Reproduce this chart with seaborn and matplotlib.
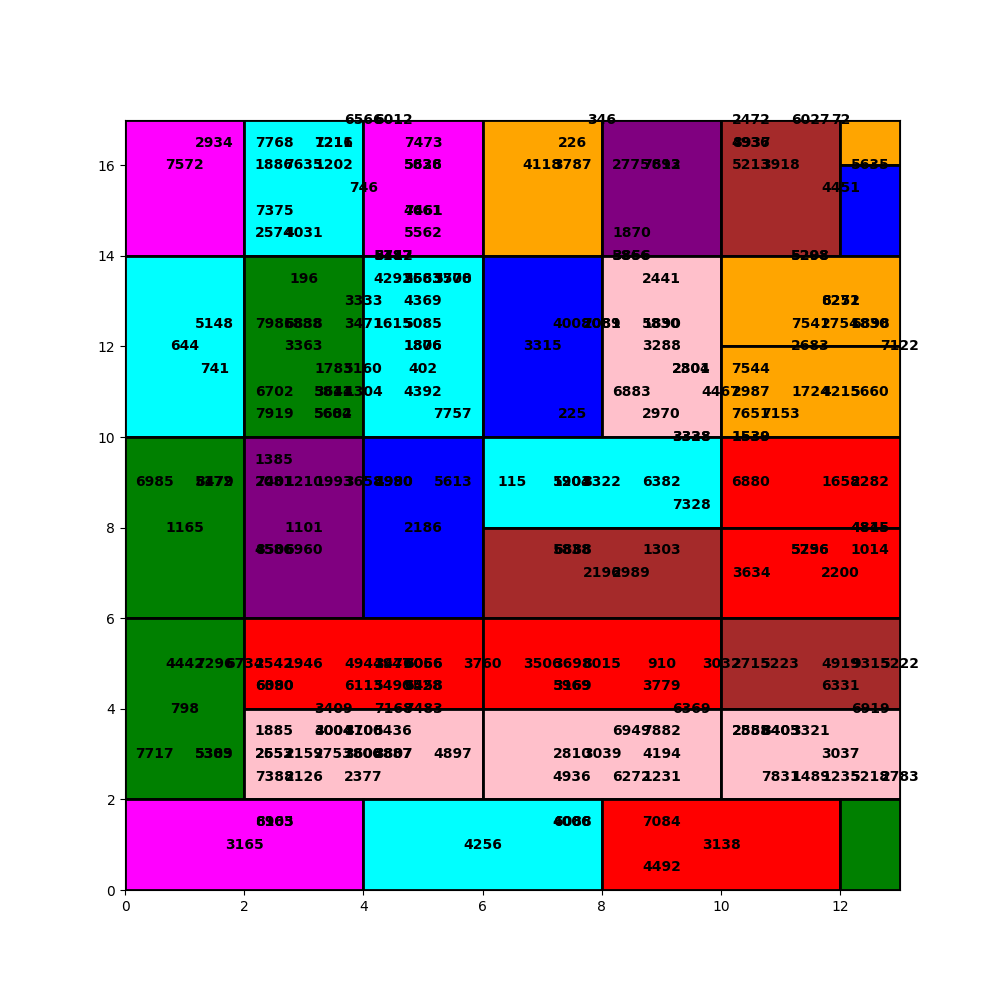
import matplotlib
matplotlib.use("Agg")
import matplotlib.pyplot as plt
import seaborn as sns

# blocks: left edge, bottom edge, width, height, colour
block_x = [0, 2, 4, 6, 8, 10, 12, 12,
           0, 2, 4, 6, 8, 10, 10,
           0, 2, 4, 6, 6, 10, 10,
           0, 2, 2, 6, 6, 10, 10,
           0, 4, 8, 12]
block_y = [14, 14, 14, 14, 14, 14, 16, 14,
           10, 10, 10, 10, 10, 12, 10,
           6, 6, 6, 8, 6, 8, 6,
           2, 4, 2, 4, 2, 4, 2,
           0, 0, 0, 0]
block_w = [2, 2, 2, 2, 2, 2, 1, 1,
           2, 2, 2, 2, 2, 3, 3,
           2, 2, 2, 4, 4, 3, 3,
           2, 4, 4, 4, 4, 3, 3,
           4, 4, 4, 1]
block_h = [3, 3, 3, 3, 3, 3, 1, 2,
           4, 4, 4, 4, 4, 2, 2,
           4, 4, 4, 2, 2, 2, 2,
           4, 2, 2, 2, 2, 2, 2,
           2, 2, 2, 2]
block_color = ['magenta', 'cyan', 'magenta', 'orange', 'purple', 'brown', 'orange', 'blue',
               'cyan', 'green', 'cyan', 'blue', 'pink', 'orange', 'orange',
               'green', 'purple', 'blue', 'cyan', 'brown', 'red', 'red',
               'green', 'red', 'pink', 'red', 'pink', 'brown', 'pink',
               'magenta', 'cyan', 'red', 'green']

# number labels, grouped by row
label_x = [4, 4.5, 8, 10.5, 11.5, 12,
           1.5, 2.5, 3.5, 3.5, 5, 7.5, 10.5, 10.5,
           1, 2.5, 3, 3.5, 5, 5, 7, 7.5, 8.5, 9, 9, 10.5, 11, 12.5,
           4, 12,
           2.5, 5, 5,
           2.5, 3, 5, 8.5,
           4.5, 4.5, 4.5, 8.5, 8.5, 11.5, 11.5,
           3, 4.5, 5, 5, 5.5, 5.5, 9,
           4, 5, 12, 12,
           1.5, 2.5, 3, 3, 4, 4.5, 5, 7.5, 8, 8, 9, 9, 11.5, 12, 12.5, 12.5,
           1, 3, 5, 5, 7, 9, 11.5, 13,
           1.5, 3.5, 4, 5, 9.5, 9.5, 10.5,
           2.5, 3.5, 3.5, 4, 5, 8.5, 10, 10.5, 11.5, 12, 12.5,
           2.5, 3.5, 3.5, 5.5, 7.5, 9, 10.5, 11,
           9.5, 9.5, 10.5, 10.5,
           2.5,
           0.5, 1.5, 1.5, 2.5, 2.5, 3, 3.5, 4, 4.5, 4.5, 5.5, 6.5, 7.5, 7.5, 8, 9, 10.5, 12, 12.5,
           9.5,
           1, 3, 5, 12.5, 12.5,
           2.5, 2.5, 3, 7.5, 7.5, 9, 11.5, 11.5, 12.5,
           8, 8.5, 10.5, 12,
           1, 1.5, 2, 2.5, 3, 4, 4.5, 4.5, 5, 5, 6, 7, 7.5, 8, 9, 10, 10.5, 11, 12, 12.5, 13,
           2.5, 2.5, 4, 4.5, 5, 5, 7.5, 7.5, 9, 12,
           1, 3.5, 4.5, 5, 9.5, 12.5,
           2.5, 3.5, 3.5, 4, 4, 4.5, 8.5, 9, 10.5, 10.5, 11, 11, 11.5,
           0.5, 1.5, 1.5, 2.5, 2.5, 3, 3.5, 4, 4, 4.5, 4.5, 5.5, 7.5, 8, 9, 12,
           2.5, 3, 4, 7.5, 8.5, 9, 11, 11.5, 12, 12.5, 13,
           2.5, 2.5, 7.5, 7.5, 9,
           2, 6, 10,
           9]
label_y = ([17] * 6 + [16.5] * 8 + [16] * 14 + [15.5] * 2 + [15] * 3
           + [14.5] * 4 + [14] * 7 + [13.5] * 7 + [13] * 4 + [12.5] * 16
           + [12] * 8 + [11.5] * 7 + [11] * 11 + [10.5] * 8 + [10] * 4
           + [9.5] * 1 + [9] * 19 + [8.5] * 1 + [8] * 5 + [7.5] * 9
           + [7] * 4 + [5] * 21 + [4.5] * 10 + [4] * 6 + [3.5] * 13
           + [3] * 16 + [2.5] * 11 + [1.5] * 5 + [1] * 3 + [0.5] * 1)
label_text = ['6566', '6012', '346', '2472', '6027', '72',
              '2934', '7768', '7211', '1216', '7473', '226', '4936', '8937',
              '7572', '1886', '7635', '1202', '5838', '5626', '4118', '3787', '2775', '7812', '7693', '5213', '3918', '5635',
              '746', '4451',
              '7375', '7461', '4661',
              '2574', '4031', '5562', '1870',
              '5187', '6442', '3717', '3856', '5866', '5208', '5298',
              '196', '4292', '2563', '5683', '3570', '5708', '2441',
              '3333', '4369', '8252', '6271',
              '5148', '7986', '6838', '5888', '3471', '1615', '5085', '4008', '7089', '2081', '5830', '1890', '7541', '2754', '6898', '1830',
              '644', '3363', '1876', '1806', '3315', '3288', '2683', '7122',
              '741', '1783', '5160', '402', '2304', '2801', '7544',
              '6702', '3644', '5811', '1304', '4392', '6883', '4467', '2987', '1724', '4215', '5660',
              '7919', '5604', '5682', '7757', '225', '2970', '7651', '7153',
              '3338', '3328', '1539', '1530',
              '1385',
              '6985', '8479', '5172', '7401', '2081', '1210', '1993', '3658', '1990', '4980', '5613', '115', '1203', '5904', '8322', '6382', '6880', '1658', '2282',
              '7328',
              '1165', '1101', '2186', '4845', '4815',
              '4586', '8506', '6960', '5838', '6888', '1303', '5756', '5296', '1014',
              '2196', '2989', '3634', '2200',
              '4442', '7296', '6734', '2542', '1946', '4944', '3476', '1947', '7066', '6056', '3760', '3506', '3698', '8015', '910', '3032', '2715', '5223', '4919', '9315', '5222',
              '6090', '6380', '6113', '5490', '6458', '9528', '5969', '3169', '3779', '6331',
              '798', '3409', '7168', '7483', '6369', '6919',
              '1885', '4004', '3004', '4700', '3106', '5436', '6949', '7882', '2888', '2555', '8403', '3405', '3321',
              '7717', '5303', '5389', '2652', '2553', '2159', '2753', '3608', '2806', '4887', '3807', '4897', '2810', '3039', '4194', '3037',
              '7388', '2126', '2377', '4936', '6272', '1231', '7831', '1489', '1235', '5218', '2783',
              '8905', '6163', '4006', '6088', '7084',
              '3165', '4256', '3138',
              '4492']


def draw_blocks(ax):
    ax.bar(block_x, block_h, width=block_w, bottom=block_y, align='edge',
           color=block_color, edgecolor='black', linewidth=2)
    for x, y, t in zip(label_x, label_y, label_text):
        ax.text(x, y, t, ha='center', va='center', fontsize=10,
                fontweight='bold', color='black')
    ax.set_xlim(0, 13)
    ax.set_ylim(0, 17)


def main():
    sns.set_style('ticks', {'axes.edgecolor': 'black', 'xtick.color': 'black',
                            'ytick.color': 'black', 'text.color': 'black',
                            'axes.labelcolor': 'black'})
    plt.rcParams['font.family'] = ['DejaVu Sans']
    fig, ax = plt.subplots(figsize=(10, 10), dpi=100)
    draw_blocks(ax)
    fig.savefig('out.png', dpi=100)


if __name__ == "__main__":
    main()
